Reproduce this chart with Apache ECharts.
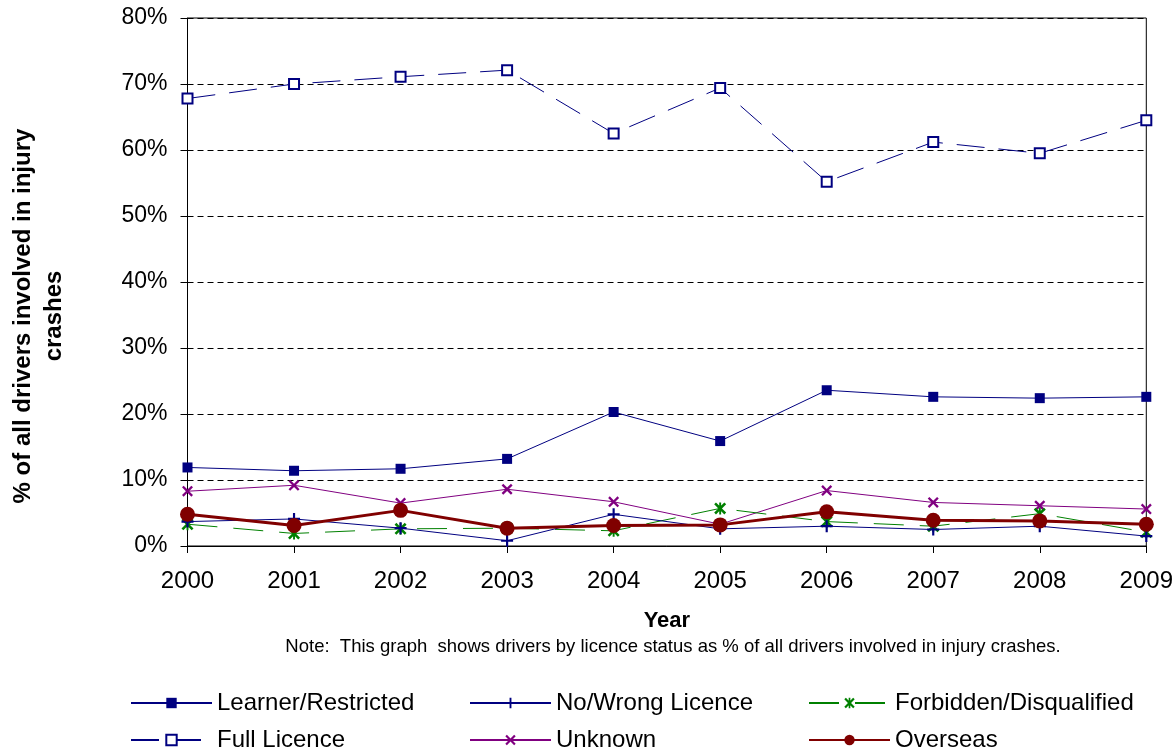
<!DOCTYPE html>
<html>
<head>
<meta charset="utf-8">
<script src="https://cdn.jsdelivr.net/npm/echarts@6/dist/echarts.min.js"></script>
<style>
html,body{margin:0;padding:0;background:#fff;}
#chart{width:1176px;height:749px;}
</style>
</head>
<body>
<div id="chart"></div>
<script>
var years = ['2000','2001','2002','2003','2004','2005','2006','2007','2008','2009'];
var learnerRestricted = [11.9, 11.4, 11.7, 13.2, 20.3, 15.9, 23.6, 22.6, 22.4, 22.6];
var fullLicence = [67.8, 70.0, 71.1, 72.1, 62.5, 69.4, 55.2, 61.2, 59.5, 64.5];
var noWrongLicence = [3.7, 4.1, 2.7, 0.8, 4.8, 2.6, 3.0, 2.5, 3.0, 1.5];
var forbiddenDisqualified = [3.3, 1.9, 2.6, 2.7, 2.3, 5.7, 3.7, 3.0, 4.9, 2.1];
var unknown = [8.3, 9.2, 6.5, 8.6, 6.7, 3.3, 8.4, 6.6, 6.1, 5.6];
var overseas = [4.8, 3.1, 5.4, 2.7, 3.1, 3.2, 5.2, 3.9, 3.8, 3.3];
var yTickLabels = ['0%','10%','20%','30%','40%','50%','60%','70%','80%'];

var FONT = '"Liberation Sans", Arial, sans-serif';
var NAVY = '#000080', PURPLE = '#800080', GREEN = '#008000', DARKRED = '#800000';

var PLUS = 'path://M4.1,0h1.8v10h-1.8z M0,4.1h10v1.8h-10z';
var XMARK = 'path://M1.5,0L5,3.5L8.5,0L10,1.5L6.5,5L10,8.5L8.5,10L5,6.5L1.5,10L0,8.5L3.5,5L0,1.5Z';
var STAR = 'path://M1.5,0L5,3.5L8.5,0L10,1.5L6.5,5L10,8.5L8.5,10L5,6.5L1.5,10L0,8.5L3.5,5L0,1.5Z M4.2,0h1.6v10h-1.6z';

function legendAt(name, left, top) {
  return {
    data: [name], left: left, top: top, padding: 0, itemGap: 0,
    itemWidth: 81, itemHeight: 13,
    textStyle: {fontSize: 24, color: '#000', fontFamily: FONT, padding: [0,0,0,0]}
  };
}

var chart = echarts.init(document.getElementById('chart'));
chart.setOption({
  animation: false,
  backgroundColor: '#fff',
  grid: {left: 187.5, right: 24, top: 18, bottom: 203, show: true, borderColor: '#000', borderWidth: 1, containLabel: false},
  xAxis: {
    type: 'category', data: years, boundaryGap: false,
    name: 'Year', nameLocation: 'middle', nameGap: 64,
    nameTextStyle: {fontSize: 22, fontWeight: 'bold', color: '#000', fontFamily: FONT},
    axisLine: {lineStyle: {color: '#000', width: 1}},
    axisTick: {show: true, length: 7, lineStyle: {color: '#000'}},
    axisLabel: {fontSize: 24, color: '#000', fontFamily: FONT, margin: 23},
    splitLine: {show: false}
  },
  yAxis: {
    type: 'value', min: 0, max: 80, interval: 10,
    axisLine: {show: true, lineStyle: {color: '#000', width: 1}},
    axisTick: {show: true, length: 7, lineStyle: {color: '#000'}},
    axisLabel: {fontSize: 23, color: '#000', fontFamily: FONT, margin: 20,
      formatter: function (v) { return yTickLabels[Math.round(v / 10)]; }},
    splitLine: {show: true, lineStyle: {color: '#000', type: [6, 4], width: 1}}
  },
  graphic: [
    {type: 'text', x: 38.5, y: 316, rotation: Math.PI / 2,
     style: {text: '% of all drivers involved in injury\ncrashes', fontSize: 24, fontWeight: 'bold',
       fontFamily: FONT, fill: '#000', align: 'center', verticalAlign: 'middle', lineHeight: 31}},
    {type: 'text', x: 673, y: 647,
     style: {text: 'Note:  This graph  shows drivers by licence status as % of all drivers involved in injury crashes.',
       fontSize: 18.5, fontFamily: FONT, fill: '#000', align: 'center', verticalAlign: 'middle'}}
  ],
  legend: [
    legendAt('Learner/Restricted', 130, 691),
    legendAt('No/Wrong Licence', 469, 691),
    legendAt('Forbidden/Disqualified', 808, 691),
    legendAt('Full Licence', 130, 728),
    legendAt('Unknown', 469, 728),
    legendAt('Overseas', 808, 728)
  ],
  series: [
    {name: 'Full Licence', type: 'line', data: fullLicence, symbol: 'rect', symbolSize: 10,
     lineStyle: {color: NAVY, width: 1, type: [28, 14]},
     itemStyle: {color: '#fff', borderColor: NAVY, borderWidth: 2}},
    {name: 'Learner/Restricted', type: 'line', data: learnerRestricted, symbol: 'rect', symbolSize: 10,
     lineStyle: {color: NAVY, width: 1}, itemStyle: {color: NAVY, borderWidth: 0}},
    {name: 'Unknown', type: 'line', data: unknown, symbol: XMARK, symbolSize: 11,
     lineStyle: {color: PURPLE, width: 1}, itemStyle: {color: PURPLE, borderWidth: 0}},
    {name: 'Forbidden/Disqualified', type: 'line', data: forbiddenDisqualified, symbol: STAR, symbolSize: 12,
     lineStyle: {color: GREEN, width: 1, type: [30, 16]}, itemStyle: {color: GREEN, borderWidth: 0}},
    {name: 'No/Wrong Licence', type: 'line', data: noWrongLicence, symbol: PLUS, symbolSize: 12,
     lineStyle: {color: NAVY, width: 1}, itemStyle: {color: NAVY, borderWidth: 0}},
    {name: 'Overseas', type: 'line', data: overseas, symbol: 'circle', symbolSize: 15,
     lineStyle: {color: DARKRED, width: 3}, itemStyle: {color: DARKRED, borderWidth: 0}}
  ]
});
</script>
</body>
</html>
